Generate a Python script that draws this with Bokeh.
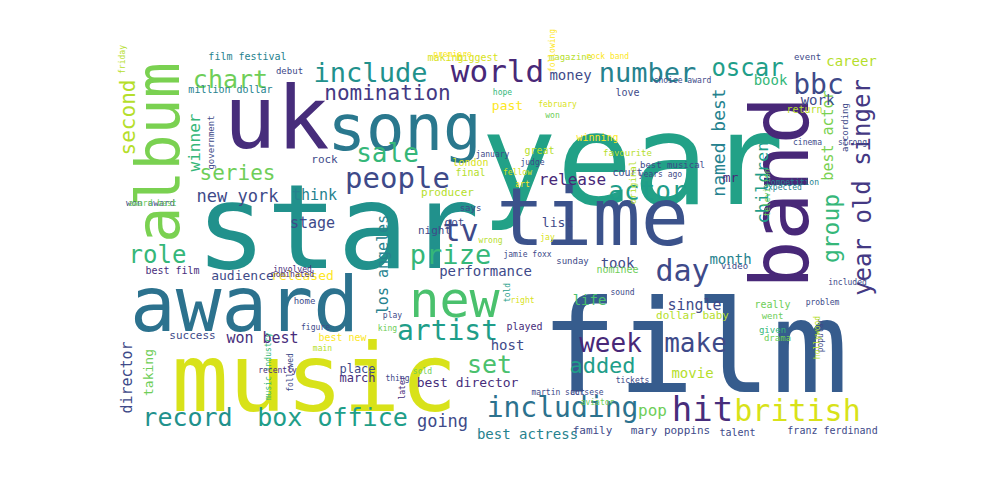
import math
from bokeh.plotting import figure
from bokeh.models import ColumnDataSource, Range1d
from bokeh.core.properties import value
from bokeh.embed import file_html
from bokeh.resources import INLINE

# word cloud: word, centre x, centre y (page pixels), font size, colour, vertical
words = ["year", "star", "film", "music", "award", "uk", "song", "time", "band", "album",
         "new", "include", "chart", "nomination", "world", "number", "oscar", "bbc",
         "year old singer", "series", "sale", "people", "second", "winner", "new york",
         "think", "tv", "prize", "role", "performance", "audience", "released", "artist",
         "won best", "director", "taking", "record", "box office", "going", "including",
         "hit", "british", "week", "make", "added", "day", "actor", "release", "set",
         "named best", "children", "group", "best actor", "work", "book", "career",
         "money", "month", "took", "single", "movie", "pop", "life", "host", "mr", "list",
         "los angeles", "best director", "best actress", "mary poppins", "family",
         "franz ferdinand", "talent", "film festival", "million dollar", "debut", "making",
         "biggest", "magazine", "event", "love", "winning", "great", "court", "return",
         "stage", "night", "got", "producer", "london", "final", "rock", "says",
         "government", "won award", "success", "best film", "best new", "home", "place",
         "march", "played", "dollar baby", "really", "went", "given", "drama", "video",
         "sunday", "nominee", "hope", "according", "premiere", "rock band", "choice award",
         "years ago", "fellow", "art", "judge", "best musical", "favourite", "original",
         "television", "competition", "expected", "strong", "past", "won", "award best",
         "involved", "nominated", "king", "play", "figure", "main", "sold", "thing",
         "later", "followed", "music industry", "recently", "sound", "told", "right",
         "tickets", "problem", "popular", "hollywood", "included", "aviator", "act",
         "jamie foxx", "cinema", "martin scorsese", "january", "february", "friday",
         "following", "jay", "wrong"]
xs = [640, 345, 702, 322, 252, 284, 412, 600, 788, 165,
      462, 378, 238, 395, 505, 655, 755, 826,
      870, 245, 395, 405, 135, 202, 245,
      322, 468, 458, 165, 493, 250, 310, 455,
      270, 134, 156, 195, 340, 450, 570,
      710, 805, 618, 703, 610, 690, 655, 580, 497,
      726, 770, 838, 835, 825, 778, 859,
      578, 738, 625, 702, 700, 660, 597, 515, 738, 565,
      390, 475, 535, 678, 600,
      840, 745, 255, 238, 297, 453,
      485, 578, 815, 635, 605, 547, 635, 812,
      320, 442, 462, 455, 478, 478, 332, 478,
      218, 158, 200, 180, 350, 312, 365,
      365, 532, 700, 780, 780, 780, 785, 742,
      580, 625, 510, 852, 460, 615, 690,
      668, 525, 530, 540, 680, 635, 640,
      775, 800, 790, 860, 515, 560, 160,
      300, 300, 395, 400, 323, 330, 430, 405, 410,
      298, 276, 285, 630, 515, 530, 640,
      830, 828, 825, 855, 605, 585, 535, 815,
      575, 500, 565, 130, 560, 555, 498,
      578, 430, 440, 740]
ys = [168, 234, 355, 385, 312, 125, 135, 225, 200, 160,
      307, 80, 87, 100, 78, 80, 75, 92,
      195, 180, 160, 185, 125, 150, 203,
      202, 238, 262, 262, 278, 283, 283, 338,
      345, 385, 380, 425, 425, 428, 415,
      416, 418, 350, 350, 373, 278, 198, 187, 372,
      150, 190, 236, 143, 107, 87, 68,
      82, 266, 270, 312, 380, 418, 307, 352, 185, 230,
      272, 390, 441, 438, 438,
      438, 440, 64, 97, 78, 65,
      65, 64, 64, 100, 145, 158, 180, 117,
      230, 238, 230, 200, 170, 180, 167, 215,
      150, 210, 343, 278, 345, 308, 376,
      385, 334, 323, 312, 323, 337, 345, 273,
      268, 277, 100, 135, 62, 64, 88,
      182, 180, 192, 170, 172, 160, 190,
      200, 190, 195, 150, 113, 123, 211,
      277, 282, 336, 323, 335, 356, 379, 386, 395,
      380, 374, 378, 300, 300, 308, 388,
      310, 343, 345, 290, 410, 400, 262, 150,
      400, 162, 112, 67, 58, 245, 248,
      428, 92, 97, 228]
sizes = [126, 118, 128, 95, 76, 88, 64, 80, 80, 60,
         50, 27, 25, 21, 31, 27, 24, 28,
         24, 21, 26, 29, 21, 16, 17,
         15, 30, 27, 24, 14, 13, 13, 28,
         15, 15, 13, 25, 25, 17, 28,
         34, 30, 26, 26, 22, 30, 26, 16, 25,
         18, 17, 23, 15, 14, 14, 14,
         14, 14, 14, 15, 14, 16, 14, 14, 13, 13,
         15, 13, 14, 11, 11,
         10, 10, 10, 10, 9, 10,
         10, 9, 9, 10, 10, 10, 10, 10,
         15, 11, 11, 11, 10, 10, 11, 9,
         9, 9, 11, 10, 10, 9, 12,
         12, 10, 11, 10, 9, 9, 9, 9,
         9, 10, 8, 9, 8, 8, 8,
         8, 8, 8, 8, 9, 9, 9,
         8, 8, 8, 8, 13, 8, 8,
         8, 8, 8, 8, 8, 8, 8, 8, 8,
         8, 8, 8, 8, 8, 8, 8,
         8, 8, 8, 8, 8, 8, 8, 8,
         8, 8, 8, 8, 8, 8, 8,
         9, 8, 8, 8]
colors = ["#22a187", "#21918c", "#365c8d", "#d8e219", "#2c728e", "#472d7b", "#2a788e", "#3b528b", "#482878", "#7ad151",
          "#4ac16d", "#21918c", "#6ece58", "#443983", "#482878", "#26828e", "#1f9e89", "#3e4a89",
          "#443983", "#6ece58", "#35b779", "#3e4a89", "#b5de2b", "#35b779", "#3e4a89",
          "#26828e", "#3e4a89", "#35b779", "#35b779", "#3e4a89", "#3e4a89", "#fde725", "#1f9e89",
          "#472d7b", "#3e4a89", "#6ece58", "#21918c", "#1f9e89", "#3e4a89", "#2c728e",
          "#472d7b", "#d8e219", "#482878", "#3e4a89", "#1f9e89", "#3e4a89", "#1f9e89", "#482878", "#4ac16d",
          "#26828e", "#1f9e89", "#35b779", "#7ad151", "#3e4a89", "#35b779", "#b5de2b",
          "#3e4a89", "#26828e", "#3e4a89", "#3e4a89", "#b5de2b", "#6ece58", "#4ac16d", "#3e4a89", "#482878", "#3e4a89",
          "#26828e", "#472d7b", "#26828e", "#3e4a89", "#3e4a89",
          "#3e4a89", "#3e4a89", "#26828e", "#26828e", "#3e4a89", "#d8e219",
          "#d8e219", "#b5de2b", "#3e4a89", "#3e4a89", "#fde725", "#b5de2b", "#3e4a89", "#b5de2b",
          "#3e4a89", "#3e4a89", "#3e4a89", "#b5de2b", "#d8e219", "#b5de2b", "#3e4a89", "#3e4a89",
          "#3e4a89", "#3e4a89", "#3e4a89", "#472d7b", "#fde725", "#3e4a89", "#3e4a89",
          "#472d7b", "#472d7b", "#b5de2b", "#6ece58", "#6ece58", "#35b779", "#6ece58", "#3e4a89",
          "#3e4a89", "#6ece58", "#35b779", "#3e4a89", "#fde725", "#fde725", "#3e4a89",
          "#3e4a89", "#d8e219", "#fde725", "#3e4a89", "#3e4a89", "#b5de2b", "#b5de2b",
          "#6ece58", "#26828e", "#26828e", "#3e4a89", "#fde725", "#6ece58", "#6ece58",
          "#472d7b", "#472d7b", "#6ece58", "#3e4a89", "#3e4a89", "#b5de2b", "#6ece58", "#3e4a89", "#472d7b",
          "#3e4a89", "#35b779", "#472d7b", "#3e4a89", "#1f9e89", "#d8e219", "#3e4a89",
          "#3e4a89", "#3e4a89", "#b5de2b", "#3e4a89", "#6ece58", "#3e4a89", "#3e4a89", "#3e4a89",
          "#3e4a89", "#3e4a89", "#d8e219", "#b5de2b", "#fde725", "#d8e219", "#b5de2b",
          "#b5de2b", "#3e4a89", "#3e4a89", "#3e4a89"]
vertical = {"band", "album", "year old singer", "second", "winner", "director", "taking",
            "named best", "children", "group", "best actor", "los angeles", "government",
            "according", "original", "television", "music industry", "followed", "hollywood",
            "popular", "told", "friday", "following", "later"}

n = len(words)
src = ColumnDataSource(dict(
    x=xs[:n], y=[500 - v for v in ys[:n]],
    text=words,
    size=[f"{s}px" for s in sizes[:n]],
    color=colors[:n],
    angle=[math.pi / 2 if w in vertical else 0 for w in words],
))

p = figure(width=984, height=484, x_range=Range1d(8, 992), y_range=Range1d(8, 492),
           output_backend="svg", toolbar_location=None, min_border=0)
p.text(x="x", y="y", text="text", text_font_size="size", text_color="color", angle="angle",
       text_align="center", text_baseline="middle", text_font=value("DejaVu Sans Mono"),
       source=src)
p.axis.visible = False
p.grid.visible = False
p.outline_line_color = None

open("out.html", "w").write(file_html(p, INLINE))
